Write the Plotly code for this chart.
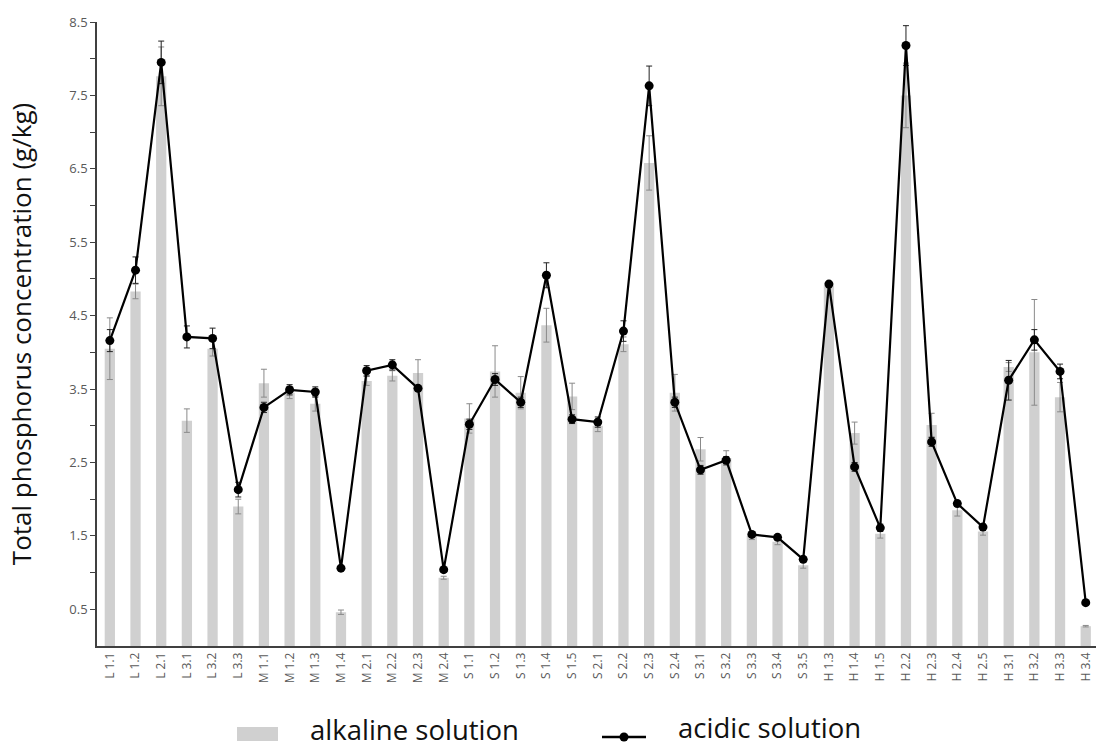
import plotly.graph_objects as go

categories = ["L 1.1","L 1.2","L 2.1","L 3.1","L 3.2","L 3.3",
              "M 1.1","M 1.2","M 1.3","M 1.4","M 2.1","M 2.2","M 2.3","M 2.4",
              "S 1.1","S 1.2","S 1.3","S 1.4","S 1.5","S 2.1","S 2.2","S 2.3","S 2.4",
              "S 3.1","S 3.2","S 3.3","S 3.4","S 3.5",
              "H 1.3","H 1.4","H 1.5","H 2.2","H 2.3","H 2.4","H 2.5","H 3.1","H 3.2","H 3.3","H 3.4"]

alkaline = [4.05, 4.83, 7.76, 3.07, 4.05, 1.90, 3.58, 3.45, 3.30, 0.46, 3.61, 3.68, 3.72, 0.93,
            3.10, 3.74, 3.45, 4.37, 3.40, 3.00, 4.11, 6.58, 3.45, 2.68, 2.56, 1.50, 1.42, 1.10,
            4.91, 2.90, 1.53, 7.50, 3.01, 1.85, 1.56, 3.80, 4.00, 3.39, 0.27]
alkaline_err = [0.42, 0.10, 0.40, 0.16, 0.10, 0.10, 0.19, 0.08, 0.10, 0.03, 0.06, 0.07, 0.18, 0.02,
                0.20, 0.35, 0.22, 0.23, 0.18, 0.08, 0.10, 0.37, 0.25, 0.16, 0.10, 0.05, 0.04, 0.04,
                0.03, 0.15, 0.06, 0.44, 0.16, 0.08, 0.05, 0.06, 0.72, 0.20, 0.01]

acidic = [4.16, 5.12, 7.95, 4.21, 4.19, 2.13, 3.25, 3.49, 3.46, 1.06, 3.75, 3.83, 3.51, 1.04,
          3.02, 3.63, 3.32, 5.05, 3.09, 3.05, 4.29, 7.63, 3.32, 2.40, 2.53, 1.52, 1.48, 1.18,
          4.93, 2.44, 1.61, 8.18, 2.78, 1.94, 1.62, 3.62, 4.17, 3.74, 0.59]
acidic_err = [0.15, 0.18, 0.29, 0.15, 0.14, 0.10, 0.07, 0.07, 0.07, 0.02, 0.07, 0.07, 0.03, 0.02,
              0.07, 0.08, 0.07, 0.17, 0.06, 0.07, 0.14, 0.27, 0.07, 0.06, 0.05, 0.03, 0.03, 0.03,
              0.03, 0.06, 0.05, 0.27, 0.06, 0.04, 0.04, 0.27, 0.14, 0.10, 0.02]

y_tick_vals = [0.5, 1.0, 1.5, 2.0, 2.5, 3.0, 3.5, 4.0, 4.5, 5.0, 5.5, 6.0, 6.5, 7.0, 7.5, 8.0, 8.5]
y_tick_text = ["0.5", "", "1.5", "", "2.5", "", "3.5", "", "4.5", "", "5.5", "", "6.5", "", "7.5", "", "8.5"]

FONT = "Open Sans, Liberation Sans, sans-serif"
BAR_COLOR = "#d0d0d0"
TXT = "#595959"

fig = go.Figure()
fig.add_trace(go.Bar(
    x=categories, y=alkaline, name="alkaline solution",
    marker=dict(color=BAR_COLOR, line=dict(width=0)), width=0.4,
    error_y=dict(type="data", array=alkaline_err, color="#8a8a8a", thickness=1, width=3),
    showlegend=False,
))
fig.add_trace(go.Scatter(
    x=categories, y=acidic, name="acidic solution", mode="lines+markers",
    line=dict(color="black", width=2.2),
    marker=dict(color="black", size=9),
    error_y=dict(type="data", array=acidic_err, color="#222222", thickness=1, width=3),
    showlegend=False,
))

L, T, B = 97, 22, 101
W, H = 1096, 747
pw = W - L
ph = H - T - B

def px(x):
    return (x - L) / pw

def py(y):
    return (H - B - y) / ph

# manual legend
fig.add_shape(type="rect", xref="paper", yref="paper",
              x0=px(237), x1=px(278), y0=py(727), y1=py(741),
              fillcolor=BAR_COLOR, line=dict(width=0))
fig.add_shape(type="line", xref="paper", yref="paper",
              x0=px(602), x1=px(646), y0=py(737), y1=py(737),
              line=dict(color="black", width=2.5))
fig.add_shape(type="circle", xref="paper", yref="paper",
              x0=px(619.5), x1=px(628.5), y0=py(732.5), y1=py(741.5),
              fillcolor="black", line=dict(width=0))
fig.add_annotation(xref="paper", yref="paper", x=px(308), y=py(729),
                   text="alkaline solution", showarrow=False, xanchor="left", yanchor="middle",
                   font=dict(family=FONT, size=27.5, color="#111111"))
fig.add_annotation(xref="paper", yref="paper", x=px(676), y=py(727),
                   text="acidic solution", showarrow=False, xanchor="left", yanchor="middle",
                   font=dict(family=FONT, size=27.5, color="#111111"))

fig.update_layout(
    width=W, height=H,
    margin=dict(l=L, r=0, t=T, b=B, autoexpand=False),
    paper_bgcolor="white", plot_bgcolor="white",
    font=dict(family=FONT, color=TXT),
    bargap=0.6,
)
fig.update_xaxes(
    type="category", range=[-0.5, 38.4],
    showline=True, linecolor="#404040", linewidth=1.5,
    ticks="", tickangle=-90, tickfont=dict(size=12, color=TXT),
    showgrid=False, zeroline=False, automargin=False,
)
fig.update_yaxes(
    range=[0, 8.5], tickmode="array", tickvals=y_tick_vals, ticktext=y_tick_text,
    showline=True, linecolor="#404040", linewidth=1.5,
    ticks="outside", ticklen=5, tickcolor="#404040", tickwidth=1,
    tickfont=dict(size=13, color=TXT),
    showgrid=False, zeroline=False, automargin=False,
    title=dict(text="Total phosphorus concentration (g/kg)",
               font=dict(size=26, color="#111111", family=FONT), standoff=30),
)

fig.write_html("out.html")
